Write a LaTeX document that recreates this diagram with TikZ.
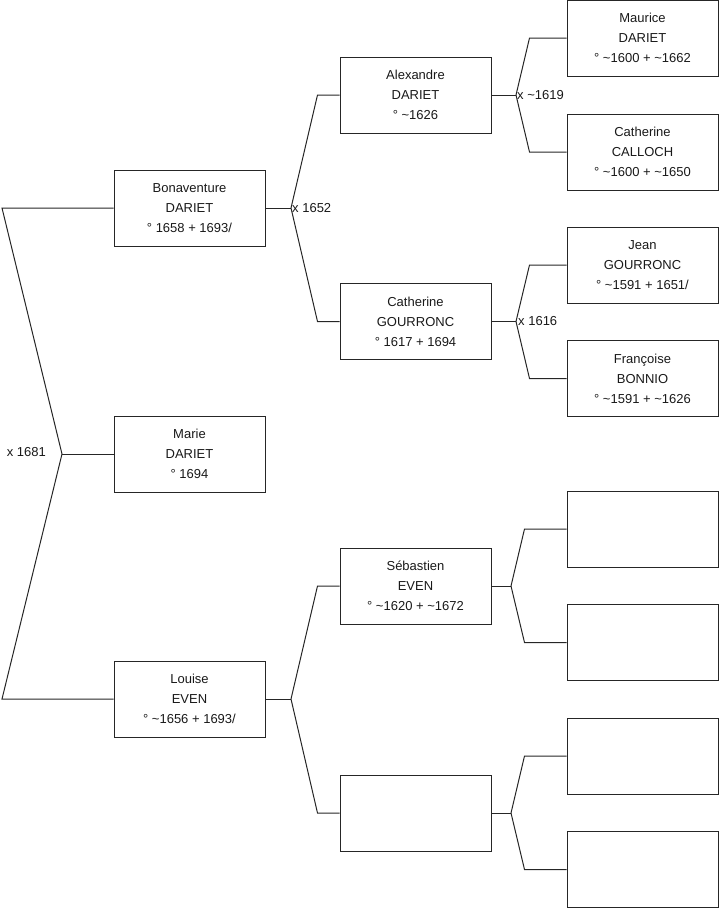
\documentclass[tikz,border=0pt]{standalone}
\usepackage{fontspec}
\setmainfont{Liberation Sans}
\usetikzlibrary{calc}
\tikzset{
  person/.style={draw=black!85, line width=1pt, minimum width=151pt, minimum height=76pt, inner sep=0pt, align=center, font=\fontsize{13}{20}\selectfont, text=black!90},
  link/.style={draw=black!85, line width=1pt},
  marr/.style={font=\fontsize{13}{16}\selectfont, text=black!90, inner sep=1pt}
}
\newcommand{\tld}{\textasciitilde}
\begin{document}
\begin{tikzpicture}[x=1pt,y=-1pt]
\useasboundingbox (0,0) rectangle (719,908);
% column 1
\node[person] (B) at (189.5,208) {Bonaventure\\DARIET\\° 1658 + 1693/};
\node[person] (M) at (189.5,454) {Marie\\DARIET\\° 1694};
\node[person] (L) at (189.5,699) {Louise\\EVEN\\° \tld1656 + 1693/};
% column 2
\node[person] (A) at (415.5,95) {Alexandre\\DARIET\\° \tld1626};
\node[person] (CG) at (415.5,321.5) {Catherine\\GOURRONC\\° 1617 + 1694};
\node[person] (S) at (415.5,586) {Sébastien\\EVEN\\° \tld1620 + \tld1672};
\node[person] (X2) at (415.5,813) {};
% column 3
\node[person] (Ma) at (642.5,38) {Maurice\\DARIET\\° \tld1600 + \tld1662};
\node[person] (CC) at (642.5,152) {Catherine\\CALLOCH\\° \tld1600 + \tld1650};
\node[person] (J) at (642.5,265) {Jean\\GOURRONC\\° \tld1591 + 1651/};
\node[person] (F) at (642.5,378.5) {Françoise\\BONNIO\\° \tld1591 + \tld1626};
\node[person] (E1) at (642.5,529) {};
\node[person] (E2) at (642.5,642.5) {};
\node[person] (E3) at (642.5,756) {};
\node[person] (E4) at (642.5,869.5) {};
% root fork
\coordinate (fR) at (62,454);
\coordinate (tB) at (2,208);
\coordinate (tL) at (2,699);
\draw[link] (B.west) -- (tB) -- (fR) -- (tL) -- (L.west);
\draw[link] (fR) -- (M.west);
\node[marr, anchor=east] (mR) at (47,452) {x 1681};
% forks col1 -> col2
\coordinate (fB) at (291,208);
\draw[link] (B.east) -- (fB);
\draw[link] (fB) -- ($(A.west)+(-22,0)$) -- (A.west);
\draw[link] (fB) -- ($(CG.west)+(-22,0)$) -- (CG.west);
\node[marr, anchor=west] (mB) at (fB) {x 1652};
\coordinate (fL) at (291,699);
\draw[link] (L.east) -- (fL);
\draw[link] (fL) -- ($(S.west)+(-22,0)$) -- (S.west);
\draw[link] (fL) -- ($(X2.west)+(-22,0)$) -- (X2.west);
% forks col2 -> col3
\coordinate (fA) at (516,95);
\draw[link] (A.east) -- (fA);
\draw[link] (fA) -- ($(Ma.west)+(-37,0)$) -- (Ma.west);
\draw[link] (fA) -- ($(CC.west)+(-37,0)$) -- (CC.west);
\node[marr, anchor=west] (mA) at (fA) {x \tld1619};
\coordinate (fCG) at (516,321.5);
\draw[link] (CG.east) -- (fCG);
\draw[link] (fCG) -- ($(J.west)+(-37,0)$) -- (J.west);
\draw[link] (fCG) -- ($(F.west)+(-37,0)$) -- (F.west);
\node[marr, anchor=west] (mCG) at ($(fCG)+(1,0)$) {x 1616};
\coordinate (fS) at (511,586);
\draw[link] (S.east) -- (fS);
\draw[link] (fS) -- ($(E1.west)+(-42,0)$) -- (E1.west);
\draw[link] (fS) -- ($(E2.west)+(-42,0)$) -- (E2.west);
\coordinate (fX) at (511,813);
\draw[link] (X2.east) -- (fX);
\draw[link] (fX) -- ($(E3.west)+(-42,0)$) -- (E3.west);
\draw[link] (fX) -- ($(E4.west)+(-42,0)$) -- (E4.west);
\end{tikzpicture}
\end{document}
